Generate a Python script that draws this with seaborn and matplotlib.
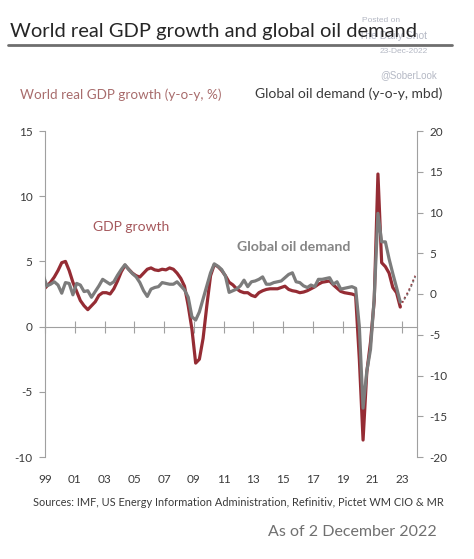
import numpy as np
import pandas as pd
import matplotlib
matplotlib.use('Agg')
import matplotlib.pyplot as plt
import seaborn as sns

# quarterly y-o-y readings, 1998Q4 .. 2022Q4
quarters = pd.period_range('1998Q4', '2022Q4', freq='Q')
gdp_growth = [2.8, 3.1, 3.4, 3.8, 4.3, 4.9, 5.0, 4.3, 3.4, 2.7,
              2.0, 1.6, 1.3, 1.6, 1.9, 2.4, 2.6, 2.6, 2.5, 2.9,
              3.5, 4.2, 4.7, 4.4, 4.1, 3.9, 3.8, 4.1, 4.4, 4.5,
              4.35, 4.3, 4.4, 4.35, 4.5, 4.4, 4.1, 3.7, 3.1, 1.6,
              -0.2, -2.8, -2.5, -0.9, 1.6, 3.9, 4.75, 4.6, 4.3, 3.9,
              3.4, 3.2, 2.9, 2.7, 2.6, 2.6, 2.4, 2.3, 2.6, 2.75,
              2.85, 2.9, 2.9, 2.9, 3.0, 3.1, 2.85, 2.75, 2.7, 2.6,
              2.65, 2.75, 2.9, 3.05, 3.25, 3.4, 3.45, 3.5, 3.2, 2.95,
              2.7, 2.6, 2.55, 2.5, 2.4, -2.5, -8.7, -3.5, -1.2, 2.0,
              11.7, 4.9, 4.6, 4.1, 3.0, 2.6, 1.5]
oil_demand = [2.3, 1.0, 1.2, 1.5, 1.1, 0.1, 1.4, 1.3, -0.1, 1.3,
              1.1, 0.3, 0.4, -0.4, 0.3, 1.0, 1.8, 1.5, 1.2, 1.5,
              2.3, 3.0, 3.6, 3.0, 2.5, 2.1, 1.4, 0.4, -0.3, 0.6,
              0.8, 0.9, 1.4, 1.3, 1.2, 1.2, 1.5, 1.0, 0.5, -0.4,
              -2.8, -3.2, -2.2, -0.6, 1.0, 2.6, 3.7, 3.4, 3.0, 2.2,
              0.2, 0.4, 0.6, 1.0, 1.7, 0.9, 1.5, 1.6, 1.8, 2.1,
              1.2, 1.2, 1.4, 1.5, 1.6, 2.0, 2.4, 2.6, 1.5, 1.4,
              1.0, 0.8, 1.1, 0.9, 1.8, 1.8, 1.9, 2.0, 1.2, 1.5,
              0.6, 0.7, 0.8, 0.9, 0.7, -4.0, -14.0, -9.5, -6.8, -0.5,
              9.9, 6.4, 6.4, 4.3, 2.5, 0.8, -1.0]

# forecast part (dotted)
forecast_quarters = pd.period_range('2022Q4', '2023Q4', freq='Q')
gdp_forecast = [1.5, 2.1, 2.6, 3.2, 3.9]
oil_forecast = [-1.0, -0.7, 0.0, 1.0, 2.1]

year_ticks = list(range(1999, 2024, 2))
year_labels = [str(y)[-2:] for y in year_ticks]
gdp_ticks = [-10, -5, 0, 5, 10, 15]
oil_ticks = [-20, -15, -10, -5, 0, 5, 10, 15, 20]

RED = '#952c34'
GREY = '#7c7c7c'


def to_year(periods):
    # plot each quarter at its mid point
    return periods.year + (periods.quarter - 0.5) / 4


df = pd.DataFrame({'date': to_year(quarters), 'gdp': gdp_growth, 'oil': oil_demand})
fc = pd.DataFrame({'date': to_year(forecast_quarters), 'gdp': gdp_forecast, 'oil': oil_forecast})

sns.set_style('white')
plt.rcParams['font.family'] = ['Lato', 'DejaVu Sans']

W, H = 474, 559
fig = plt.figure(figsize=(W / 100, H / 100), dpi=100)
ax = fig.add_axes([45 / W, 1 - 457 / H, 372 / W, 326 / H])
ax2 = ax.twinx()

sns.lineplot(data=df, x='date', y='gdp', ax=ax, color=RED, linewidth=2.3)
sns.lineplot(data=fc, x='date', y='gdp', ax=ax, color=RED, linewidth=1.3, linestyle=':')
sns.lineplot(data=df, x='date', y='oil', ax=ax2, color=GREY, linewidth=2.3)
sns.lineplot(data=fc, x='date', y='oil', ax=ax2, color=GREY, linewidth=1.3, linestyle=':')

ax.set_xlim(1999, 2024)
ax.set_ylim(-10, 15)
ax2.set_ylim(-20, 20)
ax.set_xlabel('')
ax.set_ylabel('')
ax2.set_ylabel('')

axis_col = '#a0a0a0'
text_col = '#3a3a3a'
for a in (ax, ax2):
    for s in a.spines.values():
        s.set_visible(False)
ax.spines['left'].set_visible(True)
ax.spines['left'].set_color(axis_col)
ax2.spines['right'].set_visible(True)
ax2.spines['right'].set_color(axis_col)

ax.set_yticks(gdp_ticks)
ax.set_yticklabels([str(t) for t in gdp_ticks])
ax2.set_yticks(oil_ticks)
ax2.set_yticklabels([str(t) for t in oil_ticks])
ax.tick_params(axis='y', left=True, length=4, color=axis_col, labelsize=8.5, labelcolor=text_col, pad=5)
ax2.tick_params(axis='y', right=True, length=4, color=axis_col, labelsize=8.5, labelcolor=text_col, pad=5)

ax.set_xticks(year_ticks)
ax.set_xticklabels(year_labels)
ax.tick_params(axis='x', length=0, labelsize=8.5, labelcolor=text_col, pad=12)

# zero line carrying the year ticks
zero = ax.secondary_xaxis(0.4)
zero.set_xticks(year_ticks)
zero.tick_params(axis='x', direction='inout', length=8, color=axis_col, labelbottom=False)
zero.spines['bottom'].set_color(axis_col)

ax.text(2002.2, 7.6, 'GDP growth', color='#a5585c', fontsize=10, va='center', ha='left')
ax.text(2011.9, 6.1, 'Global oil demand', color='#858585', fontsize=10.2, va='center', ha='left',
        fontweight='bold')


def px(x, y):
    return x / W, 1 - y / H


# watermark (sits behind the title, as in the source)
wm = '#b4b8c4'
fig.text(*px(362, 20), 'Posted on', color=wm, fontsize=6, family='Liberation Sans', va='center')
fig.text(*px(359, 36), 'The Daily Shot', color=wm, fontsize=7.5, family='Liberation Sans', va='center')
fig.text(*px(380, 52), '23-Dec-2022', color=wm, fontsize=6, family='Liberation Sans', va='center')
fig.text(*px(380, 75), '@SoberLook', color=wm, fontsize=7, family='Liberation Sans', va='center')

fig.text(*px(10, 31), 'World real GDP growth and global oil demand', color='#262626',
         fontsize=14.5, va='center', ha='left')
fig.add_artist(plt.Line2D([8 / W, 452 / W], [1 - 45 / H, 1 - 45 / H], color='#6e6e6e', linewidth=2))

fig.text(*px(20, 95), 'World real GDP growth (y-o-y, %)', color='#a86c6c', fontsize=9.7, va='center')
fig.text(*px(442, 94), 'Global oil demand (y-o-y, mbd)', color=text_col, fontsize=10,
         va='center', ha='right')

fig.text(*px(33, 503), 'Sources: IMF, US Energy Information Administration, Refinitiv, Pictet WM CIO & MR',
         color=text_col, fontsize=7.9, va='center', ha='left')
fig.text(*px(437, 532), 'As of 2 December 2022', color='#707070', fontsize=11.5, va='center', ha='right')

fig.savefig('out.png', dpi=100, facecolor='white')
